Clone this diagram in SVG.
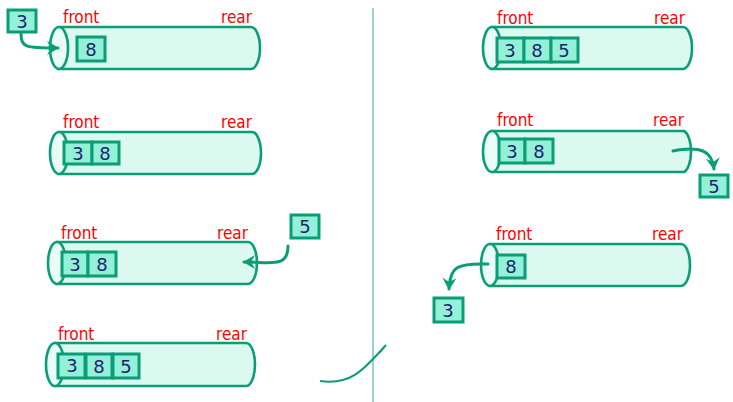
<svg xmlns="http://www.w3.org/2000/svg" width="733" height="402" viewBox="0 0 733 402">
<defs>
<style>
.body{fill:#dcf9ef;stroke:#0a9e78;stroke-width:2.6}
.cap{fill:#e9fcf6;stroke:#0a9e78;stroke-width:2.6}
.box{fill:#94f0d6;stroke:#0a9e78;stroke-width:3}
.num{font-family:"DejaVu Sans",sans-serif;font-size:18px;fill:#1a2470;text-anchor:middle}
.lbl{font-family:"DejaVu Sans Condensed","DejaVu Sans",sans-serif;font-size:17px;fill:#ff0000}
.arr{fill:none;stroke:#0a9e78;stroke-width:3;stroke-linecap:round}
</style>
<marker id="ah" markerWidth="16" markerHeight="16" refX="11" refY="7" orient="auto" markerUnits="userSpaceOnUse">
<path d="M0,0 L12,7 L0,14 L4,7 Z" fill="#0a9e78"/>
</marker>
</defs>
<line x1="373" y1="8" x2="373" y2="402" stroke="#2fae8e" stroke-width="1"/>
<g id="cyl1">
<path class="body" d="M59,27 L251,27 A9,21 0 0 1 251,69 L59,69 Z"/>
<ellipse class="cap" cx="59" cy="48" rx="9" ry="21"/>
<text class="lbl" x="63" y="23">front</text><text class="lbl" x="221" y="23">rear</text>
<rect class="box" x="77" y="37" width="28" height="24"/><text class="num" x="91" y="56">8</text>
</g>
<g id="box3a"><rect class="box" x="8" y="10" width="28" height="22"/><text class="num" x="22" y="28">3</text></g>
<g id="cyl2">
<path class="body" d="M59,132 L252,132 A9,21 0 0 1 252,174 L59,174 Z"/>
<ellipse class="cap" cx="59" cy="153" rx="9" ry="21"/>
<text class="lbl" x="63" y="128">front</text><text class="lbl" x="221" y="128">rear</text>
<rect class="box" x="64" y="142" width="28" height="22"/><text class="num" x="78" y="160">3</text>
<rect class="box" x="92" y="142" width="27" height="22"/><text class="num" x="105" y="160">8</text>
</g>
<g id="cyl3">
<path class="body" d="M57,242 L248,242 A9,21 0 0 1 248,284 L57,284 Z"/>
<ellipse class="cap" cx="57" cy="263" rx="9" ry="21"/>
<text class="lbl" x="61" y="239">front</text><text class="lbl" x="217" y="239">rear</text>
<rect class="box" x="62" y="252" width="26" height="24"/><text class="num" x="75" y="271">3</text>
<rect class="box" x="88" y="252" width="28" height="24"/><text class="num" x="102" y="271">8</text>
</g>
<g id="box5a"><rect class="box" x="291" y="215" width="28" height="23"/><text class="num" x="305" y="233">5</text></g>
<g id="cyl4">
<path class="body" d="M55,343 L246,343 A9,21.5 0 0 1 246,386 L55,386 Z"/>
<ellipse class="cap" cx="55" cy="364.5" rx="9" ry="21.5"/>
<text class="lbl" x="58" y="340">front</text><text class="lbl" x="216" y="340">rear</text>
<rect class="box" x="58" y="354" width="27" height="24"/><text class="num" x="72" y="372">3</text>
<rect class="box" x="86" y="354" width="26" height="24"/><text class="num" x="99" y="373">8</text>
<rect class="box" x="113" y="354" width="26" height="24"/><text class="num" x="126" y="373">5</text>
</g>
<g id="cyl5">
<path class="body" d="M492,27 L683,27 A9,21 0 0 1 683,69 L492,69 Z"/>
<ellipse class="cap" cx="492" cy="48" rx="9" ry="21"/>
<text class="lbl" x="497" y="24">front</text><text class="lbl" x="654" y="24">rear</text>
<rect class="box" x="497" y="38" width="27" height="24"/><text class="num" x="510" y="57">3</text>
<rect class="box" x="524" y="38" width="27" height="24"/><text class="num" x="537" y="57">8</text>
<rect class="box" x="551" y="38" width="27" height="24"/><text class="num" x="564" y="57">5</text>
</g>
<g id="cyl6">
<path class="body" d="M492,131 L684,131 A9,21 0 0 1 684,172 L492,172 Z"/>
<ellipse class="cap" cx="492" cy="151.5" rx="9" ry="20.5"/>
<text class="lbl" x="497" y="126">front</text><text class="lbl" x="653" y="126">rear</text>
<rect class="box" x="499" y="139" width="26" height="24"/><text class="num" x="512" y="158">3</text>
<rect class="box" x="525" y="139" width="28" height="24"/><text class="num" x="539" y="158">8</text>
</g>
<g id="box5b"><rect class="box" x="700" y="175" width="28" height="22"/><text class="num" x="714" y="193">5</text></g>
<g id="cyl7">
<path class="body" d="M490,244 L681,244 A9,21 0 0 1 681,286 L490,286 Z"/>
<ellipse class="cap" cx="490" cy="265" rx="9" ry="21"/>
<text class="lbl" x="496" y="240">front</text><text class="lbl" x="652" y="240">rear</text>
<rect class="box" x="497" y="255" width="28" height="23"/><text class="num" x="511" y="273">8</text>
</g>
<g id="box3b"><rect class="box" x="434" y="298" width="29" height="24"/><text class="num" x="448" y="317">3</text></g>
<g id="connectors">
<path class="arr" marker-end="url(#ah)" d="M21,33 C21,48 26,48 58,48"/>
<path class="arr" marker-end="url(#ah)" d="M288,246 C288,268 272,262 244,262"/>
<path class="arr" marker-end="url(#ah)" d="M673,151 C700,146 712,150 714,169"/>
<path class="arr" marker-end="url(#ah)" d="M488,264 C458,263 450,266 449,289"/>
<path fill="none" stroke="#0a9e78" stroke-width="2" d="M320,381 C350,385 362,372 386,345 M386,345 L380,352"/>
</g>
</svg>
